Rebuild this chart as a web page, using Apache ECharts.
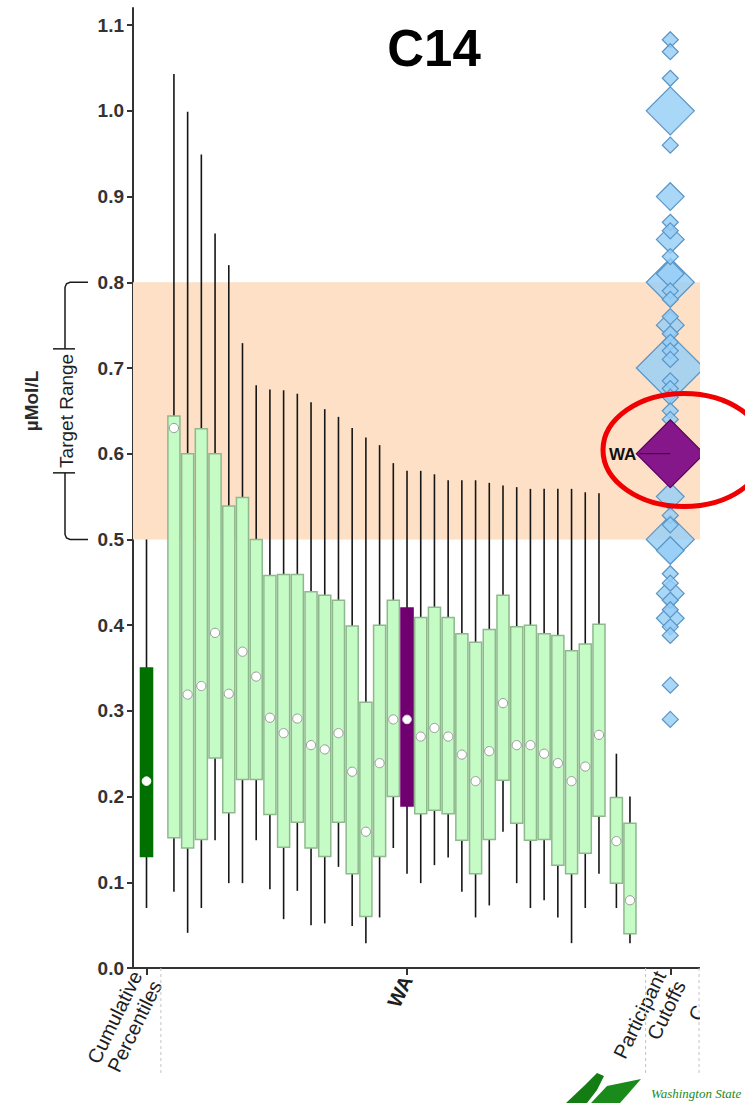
<!DOCTYPE html>
<html>
<head>
<meta charset="utf-8">
<title>C14</title>
<script src="https://cdn.jsdelivr.net/npm/echarts@6.0.0/dist/echarts.min.js"></script>
<style>
  html, body { margin: 0; padding: 0; background: #ffffff; }
  #chart { width: 745px; height: 1103px; }
</style>
</head>
<body>
<div id="chart"></div>
<script>
// ---- values (µMol/L) ----
const yTicks = [0.0, 0.1, 0.2, 0.3, 0.4, 0.5, 0.6, 0.7, 0.8, 0.9, 1.0, 1.1];
const targetRange = [0.5, 0.8];

// each row: [lower whisker, Q1, median, Q3, upper whisker]
const cumulativeBox = [0.07, 0.13, 0.218, 0.35, 0.50];
const labBoxes = [
  [0.089, 0.152, 0.630, 0.644, 1.043],
  [0.041, 0.140, 0.319, 0.600, 0.999],
  [0.070, 0.150, 0.329, 0.629, 0.949],
  [0.149, 0.245, 0.391, 0.600, 0.857],
  [0.099, 0.181, 0.320, 0.539, 0.820],
  [0.099, 0.220, 0.369, 0.549, 0.729],
  [0.149, 0.220, 0.340, 0.500, 0.680],
  [0.092, 0.179, 0.292, 0.458, 0.675],
  [0.057, 0.141, 0.274, 0.459, 0.674],
  [0.090, 0.170, 0.291, 0.459, 0.670],
  [0.050, 0.140, 0.260, 0.439, 0.660],
  [0.052, 0.130, 0.255, 0.435, 0.652],
  [0.118, 0.170, 0.274, 0.429, 0.643],
  [0.049, 0.110, 0.229, 0.399, 0.630],
  [0.029, 0.060, 0.159, 0.310, 0.619],
  [0.059, 0.130, 0.239, 0.400, 0.610],
  [0.140, 0.200, 0.290, 0.429, 0.589],
  [0.110, 0.189, 0.290, 0.420, 0.580],
  [0.099, 0.180, 0.270, 0.409, 0.580],
  [0.120, 0.184, 0.280, 0.421, 0.576],
  [0.129, 0.180, 0.270, 0.409, 0.569],
  [0.089, 0.149, 0.249, 0.390, 0.569],
  [0.059, 0.110, 0.218, 0.380, 0.569],
  [0.073, 0.150, 0.253, 0.395, 0.566],
  [0.159, 0.219, 0.309, 0.435, 0.563],
  [0.099, 0.169, 0.260, 0.398, 0.561],
  [0.070, 0.149, 0.260, 0.400, 0.559],
  [0.079, 0.150, 0.250, 0.390, 0.559],
  [0.059, 0.120, 0.239, 0.388, 0.559],
  [0.029, 0.110, 0.218, 0.370, 0.559],
  [0.070, 0.134, 0.235, 0.378, 0.555],
  [0.110, 0.177, 0.272, 0.401, 0.554]
];
const waIndex = 17;
const trailingBoxes = [
  [0.070, 0.099, 0.148, 0.199, 0.250],
  [0.029, 0.040, 0.079, 0.169, 0.200]
];

// participant cutoffs and how many participants reported each one
const cutoffValues = [1.083, 1.069, 1.038, 1.00, 0.96, 0.90, 0.87, 0.86, 0.85, 0.83,
  0.81, 0.80, 0.79, 0.78, 0.76, 0.75, 0.74, 0.73, 0.72, 0.71, 0.70, 0.685, 0.676,
  0.666, 0.65, 0.64, 0.55, 0.528, 0.517, 0.50, 0.487, 0.46, 0.449, 0.437, 0.429,
  0.418, 0.408, 0.398, 0.388, 0.33, 0.29];
const cutoffCounts = [1, 1, 1, 9, 1, 3, 1, 1, 3, 1,
  3, 9, 1, 1, 1, 3, 1, 1, 1, 1, 18, 1, 1,
  1, 1, 1, 3, 1, 1, 9, 3, 1, 1, 3, 1,
  1, 3, 1, 1, 1, 1];
const waCutoff = 0.60;
const waCutoffCount = 18;

const xLabels = ['Cumulative\nPercentiles', '{wa|WA}', 'Participant\nCutoffs'];

// ---- layout along the x axis (axis units) ----
const POS_CUM = 0;
const POS_LAB0 = 2;
const POS_TRAIL = [34.27, 35.26];
const POS_CUTOFF = 38.2;
const SEPARATORS = [1.05, 36.4, 40.3];
const X_MIN = -0.985, X_MAX = 43.65;
const BOX_W = 0.88;
const FONT = '"Liberation Sans", Arial, sans-serif';

const PALETTE = [
  { fill: '#c5fbc5', stroke: '#8fb88f', dot: '#9a9a9a' },   // participant labs
  { fill: '#007000', stroke: '#007000', dot: '#ffffff' },   // cumulative percentiles
  { fill: '#700070', stroke: '#700070', dot: '#d8d8d8' }    // WA
];

const boxData = [];
boxData.push([POS_CUM, ...cumulativeBox, 1]);
labBoxes.forEach((b, i) => boxData.push([POS_LAB0 + i, ...b, i === waIndex ? 2 : 0]));
trailingBoxes.forEach((b, i) => boxData.push([POS_TRAIL[i], ...b, 0]));

const cutoffData = cutoffValues
  .map((v, i) => [POS_CUTOFF, v, cutoffCounts[i]])
  .sort((a, b) => b[2] - a[2]);

const labelPositions = [POS_CUM, POS_LAB0 + waIndex, POS_CUTOFF];

function renderBox(params, api) {
  const x = api.value(0);
  const kind = api.value(6);
  const pLow = api.coord([x, api.value(1)]);
  const cx = pLow[0];
  const yLow = pLow[1];
  const yQ1 = api.coord([x, api.value(2)])[1];
  const yMed = api.coord([x, api.value(3)])[1];
  const yQ3 = api.coord([x, api.value(4)])[1];
  const yHigh = api.coord([x, api.value(5)])[1];
  const w = api.size([BOX_W, 0])[0];
  const pal = PALETTE[kind];
  const whisker = { stroke: '#161616', lineWidth: 1.6 };
  return {
    type: 'group',
    children: [
      { type: 'line', shape: { x1: cx, y1: yHigh, x2: cx, y2: yQ3 }, style: whisker },
      { type: 'line', shape: { x1: cx, y1: yQ1, x2: cx, y2: yLow }, style: whisker },
      { type: 'rect', shape: { x: cx - w / 2, y: yQ3, width: w, height: yQ1 - yQ3 },
        style: { fill: pal.fill, stroke: pal.stroke, lineWidth: 1.5 } },
      { type: 'circle', shape: { cx: cx, cy: yMed, r: kind === 0 ? 4.6 : 4.3 },
        style: { fill: '#ffffff', stroke: pal.dot, lineWidth: 1 } }
    ]
  };
}

function diamondPoints(cx, cy, h) {
  return [[cx, cy - h], [cx + h, cy], [cx, cy + h], [cx - h, cy]];
}

function renderCutoff(params, api) {
  const p = api.coord([api.value(0), api.value(1)]);
  const h = 8 * Math.sqrt(api.value(2));
  return {
    type: 'polygon',
    shape: { points: diamondPoints(p[0], p[1], h) },
    style: { fill: 'rgba(150,206,246,0.82)', stroke: '#5a94c4', lineWidth: 1.2 }
  };
}

function renderWaCutoff(params, api) {
  const p = api.coord([api.value(0), api.value(1)]);
  const h = 8 * Math.sqrt(api.value(2));
  return {
    type: 'group',
    children: [
      { type: 'polygon', shape: { points: diamondPoints(p[0], p[1], h) },
        style: { fill: '#86178a', stroke: '#5c0060', lineWidth: 1.2 } },
      { type: 'line', shape: { x1: p[0] - h + 3, y1: p[1], x2: p[0], y2: p[1] },
        style: { stroke: '#3c0040', lineWidth: 1 } },
      { type: 'text', style: { text: 'WA', x: p[0] - h, y: p[1] + 1, align: 'right',
        verticalAlign: 'middle', fill: '#111', font: 'bold 17px ' + FONT } }
    ]
  };
}

function renderSeparator(params, api) {
  const p = api.coord([api.value(0), 0]);
  return {
    type: 'line',
    shape: { x1: p[0], y1: p[1], x2: p[0], y2: p[1] + 106 },
    style: { stroke: '#c4c4c4', lineWidth: 1, lineDash: [3, 3] }
  };
}

const chart = echarts.init(document.getElementById('chart'), null, { renderer: 'svg' });

chart.setOption({
  animation: false,
  backgroundColor: '#ffffff',
  textStyle: { fontFamily: FONT },
  grid: { left: 133, right: 0, top: 8, bottom: 135, containLabel: false },
  xAxis: {
    type: 'value',
    min: X_MIN,
    max: X_MAX,
    splitLine: { show: false },
    axisLine: { show: true, onZero: false, lineStyle: { color: '#333', width: 2 } },
    axisTick: { show: true, customValues: labelPositions, length: 7, lineStyle: { color: '#333', width: 2 } },
    axisLabel: {
      customValues: labelPositions,
      rotate: 64,
      margin: 9,
      fontSize: 20,
      lineHeight: 22,
      color: '#1e1e1e',
      formatter: (v) => {
        const i = labelPositions.findIndex((p) => Math.abs(p - v) < 1e-6);
        return i >= 0 ? xLabels[i] : '';
      },
      rich: { wa: { fontSize: 20, fontWeight: 'bold', color: '#1e1e1e' } }
    }
  },
  yAxis: {
    type: 'value',
    min: 0,
    max: 1.12,
    splitLine: { show: false },
    axisLine: { show: true, onZero: false, lineStyle: { color: '#333', width: 2 } },
    axisTick: { show: true, customValues: yTicks, length: 6, lineStyle: { color: '#333', width: 2 } },
    axisLabel: {
      customValues: yTicks,
      margin: 9,
      fontSize: 19,
      fontWeight: 'bold',
      color: '#333',
      formatter: (v) => v.toFixed(1)
    }
  },
  series: [
    {
      name: 'Target Range',
      type: 'line',
      data: [],
      z: 1,
      markArea: {
        silent: true,
        itemStyle: { color: '#fde0c6' },
        data: [[{ yAxis: targetRange[0] }, { yAxis: targetRange[1] }]]
      }
    },
    {
      name: 'separators',
      type: 'custom',
      silent: true,
      z: 1,
      renderItem: renderSeparator,
      data: SEPARATORS.map((s) => [s])
    },
    {
      name: 'results',
      type: 'custom',
      z: 3,
      renderItem: renderBox,
      encode: { x: 0, y: [1, 2, 3, 4, 5] },
      data: boxData
    },
    {
      name: 'Participant Cutoffs',
      type: 'custom',
      z: 4,
      renderItem: renderCutoff,
      encode: { x: 0, y: 1 },
      data: cutoffData
    },
    {
      name: 'WA cutoff',
      type: 'custom',
      z: 5,
      renderItem: renderWaCutoff,
      encode: { x: 0, y: 1 },
      data: [[POS_CUTOFF, waCutoff, waCutoffCount]]
    }
  ]
});

// annotations placed from the axis scale
const yTop = chart.convertToPixel({ yAxisIndex: 0 }, targetRange[1]);
const yBot = chart.convertToPixel({ yAxisIndex: 0 }, targetRange[0]);
const yMid = (yTop + yBot) / 2;
const gap = 62;
const bracket = { stroke: '#1a1a1a', lineWidth: 1.5, fill: null };

chart.setOption({
  graphic: [
    { type: 'text', z: 20, style: { text: 'C14', x: 434, y: 48, align: 'center', verticalAlign: 'middle',
      fill: '#000', font: 'bold 51px ' + FONT } },
    { type: 'text', z: 20, rotation: Math.PI / 2, x: 31, y: 401,
      style: { text: 'µMol/L', x: 0, y: 0, align: 'center', verticalAlign: 'middle', fill: '#2a2a2a',
        font: 'bold 19px ' + FONT } },
    { type: 'text', z: 20, rotation: Math.PI / 2, x: 66, y: yMid,
      style: { text: 'Target Range', x: 0, y: 0, align: 'center', verticalAlign: 'middle', fill: '#1e1e1e',
        font: '19px ' + FONT } },
    { type: 'polyline', z: 20, shape: { points: [[88, yTop], [70, yTop], [66.5, yTop + 1.5], [65, yTop + 5], [65, yMid - gap]] }, style: bracket },
    { type: 'polyline', z: 20, shape: { points: [[65, yMid + gap], [65, yBot - 5], [66.5, yBot - 1.5], [70, yBot], [88, yBot]] }, style: bracket },
    { type: 'line', z: 20, shape: { x1: 53, y1: yMid - gap, x2: 75, y2: yMid - gap }, style: bracket },
    { type: 'line', z: 20, shape: { x1: 53, y1: yMid + gap, x2: 75, y2: yMid + gap }, style: bracket },
    { type: 'text', z: 90, rotation: 64 * Math.PI / 180, x: 697, y: 1013,
      style: { text: 'C', x: 0, y: 0, align: 'center', verticalAlign: 'middle', fill: '#1e1e1e',
        font: '20px ' + FONT } },
    { type: 'rect', z: 100, shape: { x: 700, y: 0, width: 45, height: 1103 }, style: { fill: '#ffffff' } },
    { type: 'rect', z: 100, shape: { x: 0, y: 1074, width: 745, height: 29 }, style: { fill: '#ffffff' } },
    { type: 'ellipse', z: 110, shape: { cx: 684, cy: 450, rx: 81, ry: 56.5 },
      style: { fill: null, stroke: '#f00000', lineWidth: 5 } },
    { type: 'polygon', z: 110, shape: { points: [[566, 1103], [584, 1086], [597, 1073], [604, 1076], [597, 1090], [587, 1103]] },
      style: { fill: '#137c13' } },
    { type: 'polygon', z: 110, shape: { points: [[591, 1103], [607, 1086], [641, 1079], [628, 1094], [620, 1103]] },
      style: { fill: '#1a8a1a' } },
    { type: 'text', z: 110, style: { text: 'Washington State', x: 651, y: 1093, align: 'left', verticalAlign: 'middle',
      fill: '#238a23', font: 'italic 13px "Liberation Serif", serif' } }
  ]
});
</script>
</body>
</html>
